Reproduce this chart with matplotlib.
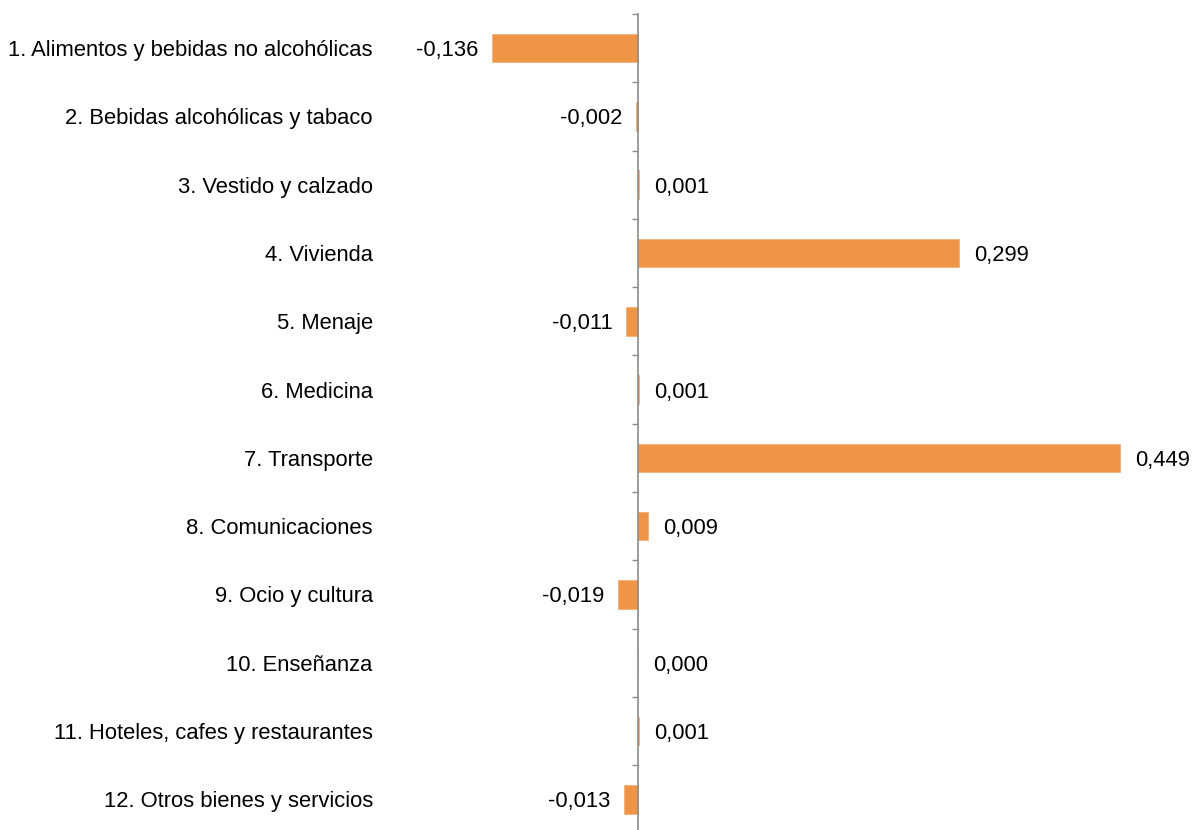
import numpy as np
import matplotlib
matplotlib.use("Agg")
import matplotlib.pyplot as plt
from matplotlib.ticker import FixedLocator

plt.rcParams['font.family'] = ['Liberation Sans', 'DejaVu Sans']

# Data
categories = ["1. Alimentos y bebidas no alcohólicas",
              "2. Bebidas alcohólicas y tabaco",
              "3. Vestido y calzado",
              "4. Vivienda",
              "5. Menaje",
              "6. Medicina",
              "7. Transporte",
              "8. Comunicaciones",
              "9. Ocio y cultura",
              "10. Enseñanza",
              "11. Hoteles, cafes y restaurantes",
              "12. Otros bienes y servicios"]
values = [-0.136, -0.002, 0.001, 0.299, -0.011, 0.001,
          0.449, 0.009, -0.019, 0.000, 0.001, -0.013]

bar_color = '#EF9548'
axis_gray = '#8C8C8C'
fs = 15.8

fig = plt.figure(figsize=(11.92, 8.30), dpi=100)
ax = fig.add_axes([380 / 1192, 0, 812 / 1192, 816 / 830])

y = np.arange(len(categories))
ax.barh(y, values, height=0.42, color=bar_color, edgecolor='#F4B07A', linewidth=0.6)

ax.set_xlim(-0.2405, 0.516)
ax.set_ylim(11.45, -0.5)

# value labels with comma decimal
for yi, v in zip(y, values):
    txt = f"{v:.3f}".replace('.', ',')
    if v < 0:
        ax.annotate(txt, (v, yi), xytext=(-10, 0), textcoords='offset points',
                    ha='right', va='center_baseline', fontsize=fs)
    else:
        ax.annotate(txt, (v, yi), xytext=(11, 0), textcoords='offset points',
                    ha='left', va='center_baseline', fontsize=fs)

# spine at zero
for s in ['top', 'right', 'bottom']:
    ax.spines[s].set_visible(False)
ax.spines['left'].set_position(('data', 0))
ax.spines['left'].set_color(axis_gray)
ax.spines['left'].set_linewidth(1.2)

ax.set_xticks([])
ax.set_yticks(y)
ax.set_yticklabels(categories, fontsize=fs, va='center_baseline')
ax.tick_params(axis='y', which='major', length=0, pad=191)
ax.yaxis.set_minor_locator(FixedLocator(np.arange(-0.5, 12, 1)))
ax.tick_params(axis='y', which='minor', length=4.5, width=1, color=axis_gray, direction='out')

fig.savefig("out.png", dpi=100)
